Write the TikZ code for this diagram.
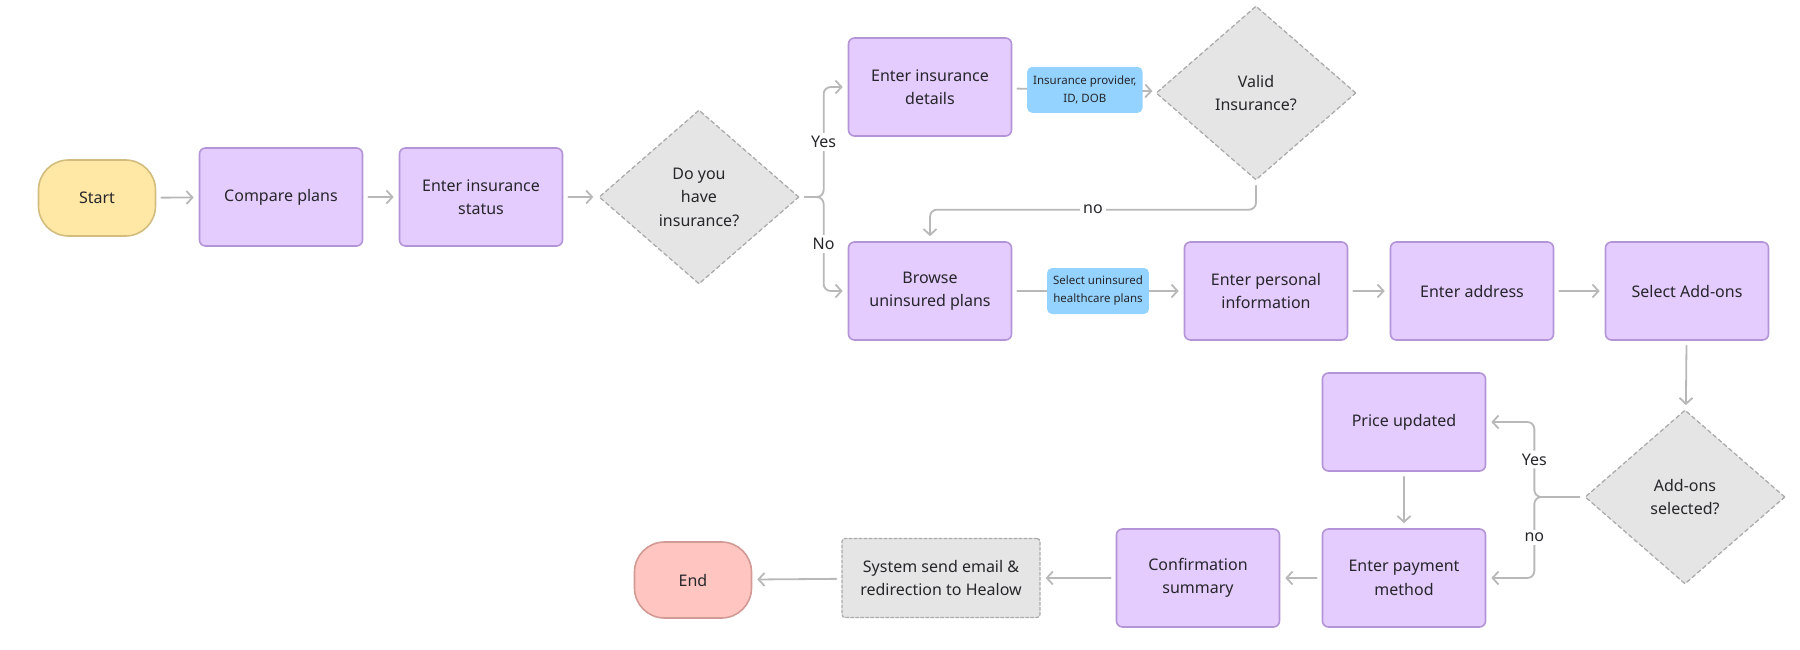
\documentclass[tikz,border=0pt]{standalone}
\usepackage{fontspec}
\setmainfont{Noto Sans}
\usetikzlibrary{shapes.geometric,arrows.meta}

\definecolor{stepfill}{HTML}{E4CCFF}
\definecolor{stepline}{HTML}{B394D6}
\definecolor{askfill}{HTML}{E5E5E5}
\definecolor{askline}{HTML}{ABABAB}
\definecolor{startfill}{HTML}{FFE8A6}
\definecolor{startline}{HTML}{D2BC7E}
\definecolor{endfill}{HTML}{FFC6C1}
\definecolor{endline}{HTML}{D39994}
\definecolor{tagfill}{HTML}{94D3FF}
\definecolor{flowgray}{HTML}{B8B8B8}
\definecolor{inkgray}{HTML}{26262B}

\begin{document}
\begin{tikzpicture}[
  x=1pt, y=-1pt,
  line cap=round,
  line join=round,
  every node/.style={font=\fontsize{16}{23.5}\selectfont, text=inkgray, align=center},
  stepbox/.style={draw=stepline, fill=stepfill, line width=1.6pt, rounded corners=6pt,
    minimum width=163pt, minimum height=98pt, inner sep=0pt},
  ask/.style={diamond, draw=askline, fill=askfill, line width=1.3pt,
    dash pattern=on 4pt off 3pt, minimum width=200pt, minimum height=174pt, inner sep=0pt},
  sysbox/.style={draw=askline, fill=askfill, line width=1.3pt, rounded corners=3pt,
    dash pattern=on 3pt off 2pt, minimum width=198pt, minimum height=79pt, inner sep=0pt},
  terminal/.style={line width=1.6pt, rounded corners=30pt, minimum width=117pt, minimum height=76pt},
  tag/.style={fill=tagfill, rounded corners=5pt, minimum height=46pt, inner xsep=6pt,
    font=\fontsize{11.5}{18}\selectfont},
  flow/.style={draw=flowgray, line width=1.8pt, -{Straight Barb[length=6pt,width=13pt]},
    shorten >=5pt, shorten <=5pt, rounded corners=7pt},
  lbl/.style={fill=white, inner sep=3pt}
]
  \useasboundingbox (0,0) rectangle (1800,650);

  % Top row
  \node[terminal, draw=startline, fill=startfill] (start) at (97,198) {Start};
  \node[stepbox] (compare) at (281,197) {Compare plans};
  \node[stepbox] (status)  at (481,197) {Enter insurance\\status};
  \node[ask]     (hasins)  at (699,197) {Do you\\have\\insurance?};

  % Insured branch
  \node[stepbox] (details) at (930,87) {Enter insurance\\details};
  \node[ask]     (valid)   at (1256,93) {Valid\\Insurance?};

  % Uninsured branch
  \node[stepbox] (browse)   at (930,291)  {Browse\\uninsured plans};
  \node[stepbox] (personal) at (1266,291) {Enter personal\\information};
  \node[stepbox] (address)  at (1472,291) {Enter address};
  \node[stepbox] (addons)   at (1687,291) {Select Add-ons};

  % Checkout
  \node[ask]     (picked)  at (1685,497) {Add-ons\\selected?};
  \node[stepbox] (price)   at (1404,422) {Price updated};
  \node[stepbox] (payment) at (1404,578) {Enter payment\\method};
  \node[stepbox] (confirm) at (1198,578) {Confirmation\\summary};
  \node[sysbox]  (notify)  at (941,578)  {System send email \&\\redirection to Healow};
  \node[terminal, draw=endline, fill=endfill] (finish) at (693,580) {End};

  % Connectors
  \draw[flow] (start) -- (compare);
  \draw[flow] (compare) -- (status);
  \draw[flow] (status) -- (hasins);
  \draw[flow] (hasins.east) -- ++(24,0) |- node[lbl, pos=0.25] {Yes} (details.west);
  \draw[flow] (hasins.east) -- ++(24,0) |- node[lbl, pos=0.25] {No} (browse.west);
  \draw[flow] (details) -- node[tag] {Insurance provider,\\ID, DOB} (valid);
  \draw[flow] (valid.south) -- ++(0,29) -| node[lbl, pos=0.25] {no} (browse.north);
  \draw[flow] (browse) -- node[tag] {Select uninsured\\healthcare plans} (personal);
  \draw[flow] (personal) -- (address);
  \draw[flow] (address) -- (addons);
  \draw[flow] (addons) -- (picked);
  \draw[flow] (picked.west) -- ++(-50,0) |- node[lbl, pos=0.25] {Yes} (price.east);
  \draw[flow] (picked.west) -- ++(-50,0) |- node[lbl, pos=0.25] {no} (payment.east);
  \draw[flow] (price) -- (payment);
  \draw[flow] (payment) -- (confirm);
  \draw[flow] (confirm) -- (notify);
  \draw[flow] (notify) -- (finish);
\end{tikzpicture}
\end{document}
